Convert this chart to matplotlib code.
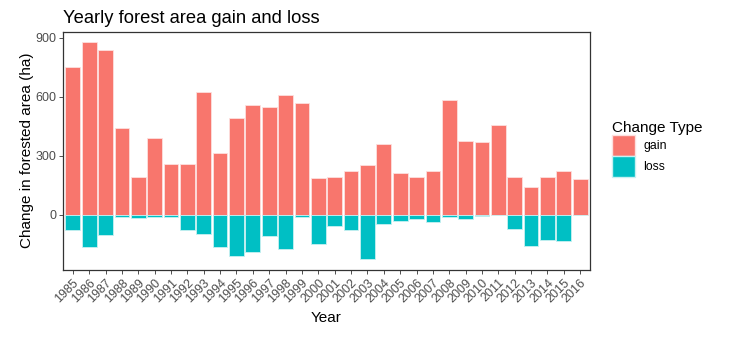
import matplotlib.pyplot as plt
import numpy as np
from matplotlib.patches import Patch

plt.rcParams['font.family'] = ['Liberation Sans', 'DejaVu Sans']

years = [str(y) for y in range(1985, 2017)]
gain = [752, 879, 839, 442, 190, 391, 257, 257, 623, 315, 490, 560, 549, 612, 570, 185,
        190, 221, 253, 361, 211, 190, 221, 583, 376, 371, 458, 190, 139, 190, 221, 180]
loss = [78, 167, 105, 12, 19, 12, 12, 78, 100, 167, 209, 189, 111, 177, 12, 151,
        60, 80, 225, 49, 34, 24, 39, 14, 24, 9, 4, 75, 158, 131, 136, 4]

gain_col = '#F8766D'
loss_col = '#00BFC4'

fig = plt.figure(figsize=(7.3, 3.47), dpi=100)
ax = fig.add_axes([63/730, 1-270/347, (590-63)/730, (270-31.5)/347])

x = np.arange(len(years))
ax.bar(x, gain, width=0.9, color=gain_col, edgecolor='#fde0de', linewidth=0.6)
ax.bar(x, -np.array(loss), width=0.9, color=loss_col, edgecolor='#c8f0f1', linewidth=0.6)

ax.set_xlim(-0.6, len(years) - 0.4)
ax.set_ylim(-282, 933)
ax.set_yticks([0, 300, 600, 900])
ax.set_xticks(x)
ax.set_xticklabels(years, rotation=45, ha='right', rotation_mode='anchor')
ax.tick_params(axis='both', colors='#333333', labelcolor='#4d4d4d', labelsize=9,
               length=3, width=0.6, pad=2)
for s in ax.spines.values():
    s.set_color('#333333')
    s.set_linewidth(0.9)

ax.set_xlabel('Year', fontsize=11, labelpad=4)
ax.set_ylabel('Change in forested area (ha)', fontsize=11, labelpad=1)
ax.set_title('Yearly forest area gain and loss', fontsize=13.2, loc='left', pad=6)

handles = [Patch(facecolor=gain_col, edgecolor='#fde0de'), Patch(facecolor=loss_col, edgecolor='#c8f0f1')]
leg = fig.legend(handles, ['gain', 'loss'], title='Change Type', loc='upper left',
                 bbox_to_anchor=(603/730, 1-112/347), frameon=False, fontsize=8.8,
                 title_fontsize=11, handlelength=1.9, handleheight=2.3,
                 labelspacing=0.0, handletextpad=0.7, borderaxespad=0.3)
leg._legend_box.align = 'left'

fig.savefig('out.png', dpi=100)
